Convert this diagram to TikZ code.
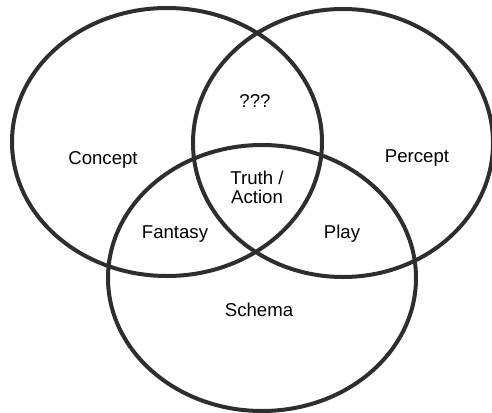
\documentclass[tikz,border=0pt]{standalone}
\usepackage{fontspec}
\setmainfont{Liberation Sans}
\begin{document}
\begin{tikzpicture}[x=0.5pt,y=-0.5pt,line width=2pt]
    \tikzset{venn ring/.style={draw=black!82},
        label style/.style={font=\fontsize{9.3}{9.6}\selectfont, align=center, inner sep=0pt}}
    \useasboundingbox (0,0) rectangle (492,412);
    % the three sets
    \draw[venn ring] (167,142) ellipse [x radius=155, y radius=134];
    \draw[venn ring] (343,143) ellipse [x radius=150, y radius=134];
    \draw[venn ring] (262,278) ellipse [x radius=154, y radius=133];
    % region labels
    \node[label style] (concept) at (103,160) {Concept};
    \node[label style] (percept) at (417,158) {Percept};
    \node[label style] (unknown) at (255,101) {???};
    \node[label style] (truth) at (257,187) {Truth /\\Action};
    \node[label style] (fantasy) at (175,234) {Fantasy};
    \node[label style] (play) at (342,234) {Play};
    \node[label style] (schema) at (259,310) {Schema};
\end{tikzpicture}
\end{document}
